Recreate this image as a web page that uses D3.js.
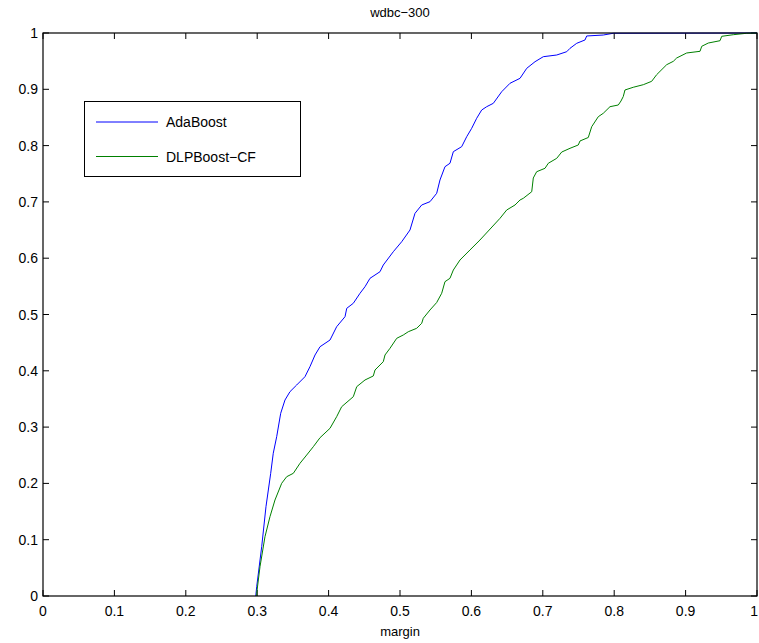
<!DOCTYPE html>
<html><head><meta charset="utf-8">
<script src="https://cdn.jsdelivr.net/npm/d3@7"></script>
<style>body{margin:0;background:#fff}svg{display:block}text{font-family:"Liberation Sans",Arial,sans-serif}</style>
</head><body>
<svg id="c" width="759" height="643"></svg>
<script>
const title = "wdbc−300";
const xLabel = "margin";
const seriesNames = ["AdaBoost", "DLPBoost−CF"];
const seriesColors = ["#0000ff", "#008000"];
const xTicks = [0,0.1,0.2,0.3,0.4,0.5,0.6,0.7,0.8,0.9,1];
const yTicks = [0,0.1,0.2,0.3,0.4,0.5,0.6,0.7,0.8,0.9,1];

const adaX = [0.298,0.2993,0.3063,0.3123,0.3189,0.3225,0.3273,0.3329,0.3389,0.3459,0.3553,0.3669,0.3739,0.3810,0.3880,0.4020,0.4113,0.4230,0.4254,0.4346,0.4440,0.4510,0.4580,0.4720,0.4766,0.4906,0.5024,0.5140,0.5210,0.5304,0.5420,0.5514,0.5560,0.5630,0.5700,0.5747,0.5864,0.5934,0.6004,0.6074,0.6144,0.6214,0.6307,0.6424,0.6541,0.6681,0.6775,0.6891,0.7007,0.7195,0.7335,0.7381,0.7475,0.7591,0.7615,0.7847,0.7987,1.0];
const adaY = [0,0.0165,0.0876,0.1586,0.2179,0.2535,0.2830,0.3245,0.3481,0.3629,0.3748,0.3895,0.4073,0.4281,0.4428,0.4547,0.4783,0.4961,0.5110,0.5199,0.5377,0.5494,0.5643,0.5760,0.5879,0.6115,0.6293,0.6501,0.6797,0.6945,0.7004,0.7153,0.7389,0.7625,0.7686,0.7892,0.7981,0.8158,0.8307,0.8485,0.8632,0.8691,0.8751,0.8957,0.9107,0.9195,0.9373,0.9490,0.9579,0.9609,0.9668,0.9728,0.9817,0.9876,0.9947,0.9964,0.9995,1.0];

const dlpX = [0.2993,0.2993,0.3039,0.3109,0.3179,0.3249,0.3343,0.3413,0.3506,0.3599,0.3693,0.3786,0.3880,0.4020,0.4113,0.4183,0.4346,0.4394,0.4510,0.4626,0.4650,0.4766,0.4790,0.4860,0.4954,0.5046,0.5116,0.5234,0.5304,0.5326,0.5420,0.5514,0.5584,0.5630,0.5700,0.5747,0.5840,0.5980,0.6120,0.6401,0.6494,0.6611,0.6681,0.6727,0.6845,0.6867,0.6914,0.7031,0.7077,0.7195,0.7265,0.7381,0.7497,0.7521,0.7637,0.7685,0.7777,0.7847,0.7941,0.8057,0.8095,0.8127,0.8151,0.8267,0.8408,0.8525,0.8595,0.8735,0.8828,0.8875,0.9015,0.9202,0.9226,0.9318,0.9482,0.9506,0.9668,0.9856,0.9996];
const dlpY = [0,0.0048,0.0520,0.1053,0.1409,0.1705,0.2002,0.2119,0.2179,0.2357,0.2504,0.2652,0.2812,0.2979,0.3185,0.3362,0.3540,0.3718,0.3837,0.3908,0.4014,0.4162,0.4281,0.4400,0.4577,0.4636,0.4694,0.4755,0.4844,0.4933,0.5080,0.5213,0.5377,0.5583,0.5643,0.5790,0.5968,0.6146,0.6323,0.6709,0.6856,0.6945,0.7034,0.7064,0.7181,0.7425,0.7536,0.7597,0.7686,0.7774,0.7886,0.7952,0.8011,0.8082,0.8144,0.8336,0.8513,0.8574,0.8691,0.8721,0.8792,0.8872,0.8988,0.9036,0.9082,0.9142,0.9260,0.9437,0.9497,0.9556,0.9645,0.9675,0.9764,0.9822,0.9863,0.9941,0.9970,0.9995,1.0];

const L = 43, R = 757, T = 33, B = 596;
const svg = d3.select("#c");
const x = d3.scaleLinear().domain([0,1]).range([L,R]);
const y = d3.scaleLinear().domain([0,1]).range([B,T]);

const tl = 6;
const g = svg.append("g");
xTicks.forEach(t => {
  g.append("line").attr("x1", x(t)).attr("x2", x(t)).attr("y1", B).attr("y2", B - tl).attr("stroke","#000");
  g.append("line").attr("x1", x(t)).attr("x2", x(t)).attr("y1", T).attr("y2", T + tl).attr("stroke","#000");
  const last = t === xTicks[xTicks.length-1];
  g.append("text").attr("x", last ? 758 : x(t)).attr("y", 616)
    .attr("text-anchor", last ? "end" : "middle").attr("font-size",14).text(d3.format("")(t));
});
yTicks.forEach(t => {
  g.append("line").attr("x1", L).attr("x2", L + tl).attr("y1", y(t)).attr("y2", y(t)).attr("stroke","#000");
  g.append("line").attr("x1", R).attr("x2", R - tl).attr("y1", y(t)).attr("y2", y(t)).attr("stroke","#000");
  g.append("text").attr("x", 38).attr("y", y(t) + 5).attr("text-anchor","end").attr("font-size",14).text(d3.format("")(t));
});

const line = d3.line().x(d => x(d[0])).y(d => y(d[1]));
const series = [d3.zip(adaX, adaY), d3.zip(dlpX, dlpY)];
series.forEach((s,i) => {
  svg.append("path").datum(s).attr("d", line).attr("fill","none").attr("stroke", seriesColors[i]).attr("stroke-width",1);
});

svg.append("rect").attr("x", L).attr("y", T).attr("width", R-L).attr("height", B-T).attr("fill","none").attr("stroke","#000").attr("stroke-width",1.2);

svg.append("text").attr("x", (L+R)/2).attr("y", 17).attr("text-anchor","middle").attr("font-size",13).text(title);
svg.append("text").attr("x", (L+R)/2).attr("y", 636).attr("text-anchor","middle").attr("font-size",13).text(xLabel);

const lg = svg.append("g");
lg.append("rect").attr("x", 84.5).attr("y", 101.5).attr("width", 216).attr("height", 75).attr("fill","#fff").attr("stroke","#000");
seriesNames.forEach((n,i) => {
  const yy = 122 + i*34.5;
  lg.append("line").attr("x1", 96).attr("x2", 158).attr("y1", yy).attr("y2", yy).attr("stroke", seriesColors[i]);
  lg.append("text").attr("x", 166).attr("y", yy + 5).attr("font-size",14).text(n);
});
</script>
</body></html>
